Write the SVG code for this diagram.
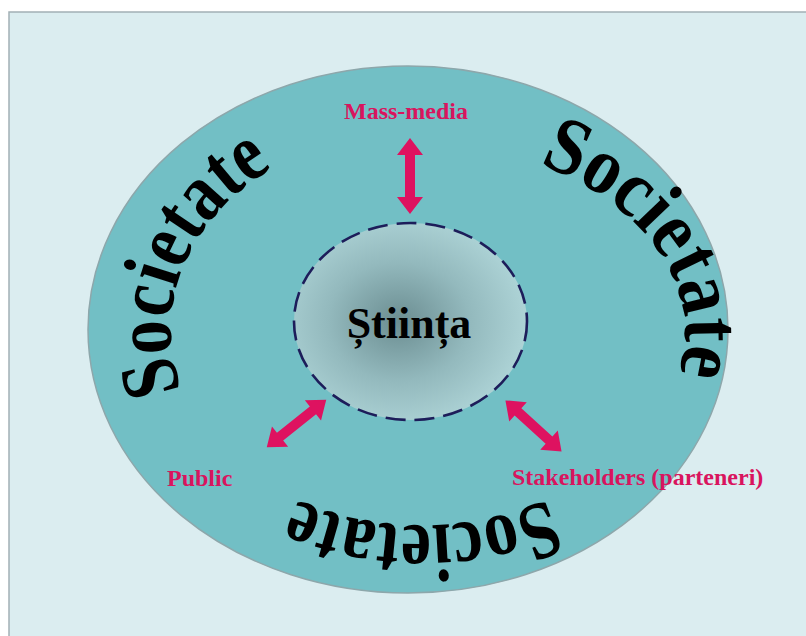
<svg xmlns="http://www.w3.org/2000/svg" xmlns:xlink="http://www.w3.org/1999/xlink" width="806" height="636" viewBox="0 0 806 636">
<style>
.lbl{font-family:"Liberation Serif","Times New Roman",serif;font-weight:bold;font-size:24px;fill:#d9145e}
.soc{font-family:"Liberation Serif","Times New Roman",serif;font-weight:bold;font-size:82px;fill:#000}
.arr{fill:#de1260}
</style>
<defs>
<radialGradient id="sci" cx="0.45" cy="0.5" r="0.55">
<stop offset="0" stop-color="#6b8d91"/>
<stop offset="0.55" stop-color="#93b9bd"/>
<stop offset="1" stop-color="#add3d6"/>
</radialGradient>
<path id="dbl" d="M-38 0 L-21 -13 L-21 -5 L21 -5 L21 -13 L38 0 L21 13 L21 5 L-21 5 L-21 13 Z"/>
<path id="arcL" d="M182 390 A235 196 0 0 1 275 167"/>
<path id="arcR" d="M539 164 A280 192 0 0 1 677 378"/>
<path id="arcB" d="M548 499 A313 313 0 0 1 296 499"/>
</defs>
<rect x="0" y="0" width="806" height="636" fill="#ffffff"/>
<rect id="panel" x="9" y="12" width="820" height="650" fill="#dbedf0" stroke="#a3b0b5" stroke-width="1.5"/>
<g id="societate">
<ellipse cx="408" cy="329.5" rx="320" ry="263.5" fill="#72bfc5" stroke="#8da7ab" stroke-width="1.5"/>
<text class="soc"><textPath xlink:href="#arcL" href="#arcL" textLength="262" lengthAdjust="spacingAndGlyphs">Societate</textPath></text>
<text class="soc"><textPath xlink:href="#arcR" href="#arcR" textLength="279" lengthAdjust="spacingAndGlyphs">Societate</textPath></text>
<text class="soc"><textPath xlink:href="#arcB" href="#arcB" textLength="259" lengthAdjust="spacingAndGlyphs">Societate</textPath></text>
</g>
<g id="stiinta">
<ellipse cx="410.5" cy="321.5" rx="116.5" ry="98.5" fill="url(#sci)" stroke="#1d1d5a" stroke-width="2.6" stroke-dasharray="20 9"/>
<text x="409" y="338" text-anchor="middle" font-family="'Liberation Serif','Times New Roman',serif" font-weight="bold" font-size="44" fill="#000">Știința</text>
</g>
<g id="mass-media"><text class="lbl" x="406" y="119" text-anchor="middle">Mass-media</text></g>
<g id="public"><text class="lbl" x="167" y="486">Public</text></g>
<g id="stakeholders"><text class="lbl" x="512" y="485">Stakeholders (parteneri)</text></g>
<g id="connectors" class="arr">
<use href="#dbl" xlink:href="#dbl" transform="translate(410 176) rotate(90)"/>
<use href="#dbl" xlink:href="#dbl" transform="translate(296.5 423.5) rotate(-38.5)"/>
<use href="#dbl" xlink:href="#dbl" transform="translate(533.5 426) rotate(42.4)"/>
</g>
</svg>
